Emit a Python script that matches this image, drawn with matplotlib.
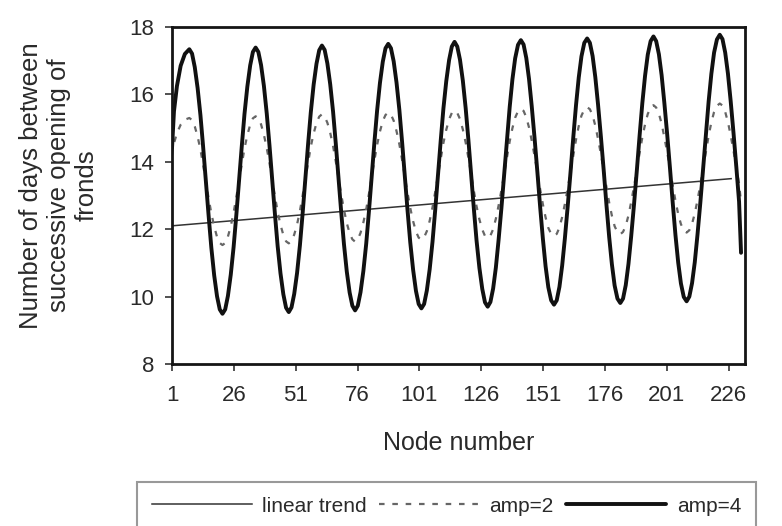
import matplotlib
matplotlib.use("Agg")
import matplotlib.pyplot as plt

# ---- data (node number, days) ----
nodes = [1.0, 1.8, 3.0, 4.5, 6.2,
         8.0, 9.1, 10.2, 11.35, 12.5, 13.6, 14.7, 15.8, 16.9, 18.05, 19.2, 20.3, 21.4, 22.5, 23.6, 24.75, 25.9, 27.0, 28.1, 29.2, 30.3, 31.45, 32.6, 33.7,
         34.8, 35.9, 37.0, 38.15, 39.3, 40.4, 41.5, 42.6, 43.7, 44.85, 46.0, 47.1, 48.2, 49.3, 50.4, 51.55, 52.7, 53.8, 54.9, 56.0, 57.1, 58.25, 59.4, 60.5,
         61.6, 62.7, 63.8, 64.95, 66.1, 67.2, 68.3, 69.4, 70.5, 71.65, 72.8, 73.9, 75.0, 76.1, 77.2, 78.35, 79.5, 80.6, 81.7, 82.8, 83.9, 85.05, 86.2, 87.3,
         88.4, 89.5, 90.6, 91.75, 92.9, 94.0, 95.1, 96.2, 97.3, 98.45, 99.6, 100.7, 101.8, 102.9, 104.0, 105.15, 106.3, 107.4, 108.5, 109.6, 110.7, 111.85, 113.0, 114.1,
         115.2, 116.3, 117.4, 118.55, 119.7, 120.8, 121.9, 123.0, 124.1, 125.25, 126.4, 127.5, 128.6, 129.7, 130.8, 131.9, 133.0, 134.15, 135.3, 136.4, 137.5, 138.6, 139.7, 140.85,
         142.0, 143.1, 144.2, 145.3, 146.4, 147.55, 148.7, 149.8, 150.9, 152.0, 153.1, 154.25, 155.4, 156.5, 157.6, 158.7, 159.8, 160.95, 162.1, 163.2, 164.3, 165.4, 166.5, 167.65,
         168.8, 169.9, 171.0, 172.1, 173.2, 174.35, 175.5, 176.6, 177.7, 178.8, 179.9, 181.05, 182.2, 183.3, 184.4, 185.5, 186.6, 187.75, 188.9, 190.0, 191.1, 192.2, 193.3, 194.45,
         195.6, 196.7, 197.8, 198.9, 200.0, 201.15, 202.3, 203.4, 204.5, 205.6, 206.7, 207.85, 209.0, 210.1, 211.2, 212.3, 213.4, 214.55, 215.7, 216.8, 217.9, 219.0, 220.1, 221.25,
         222.4, 223.5, 224.6, 225.7, 226.8, 227.95, 229.1, 230.2, 231.0]

amp4 = [14.40, 15.50, 16.25, 16.85, 17.20,
        17.34, 17.21, 16.81, 16.19, 15.38, 14.43, 13.41, 12.40, 11.45, 10.63, 10.01, 9.62, 9.49, 9.62, 10.02, 10.65, 11.47, 12.42, 13.44, 14.46, 15.42, 16.23, 16.86, 17.26,
        17.39, 17.26, 16.87, 16.25, 15.43, 14.49, 13.47, 12.45, 11.50, 10.69, 10.07, 9.67, 9.54, 9.68, 10.08, 10.70, 11.52, 12.47, 13.49, 14.52, 15.47, 16.29, 16.91, 17.31,
        17.45, 17.32, 16.92, 16.30, 15.49, 14.54, 13.52, 12.50, 11.56, 10.74, 10.12, 9.73, 9.59, 9.73, 10.13, 10.76, 11.57, 12.53, 13.55, 14.57, 15.52, 16.34, 16.97, 17.37,
        17.50, 17.37, 16.98, 16.35, 15.54, 14.59, 13.57, 12.56, 11.61, 10.80, 10.17, 9.78, 9.65, 9.78, 10.18, 10.81, 11.63, 12.58, 13.60, 14.62, 15.58, 16.39, 17.02, 17.42,
        17.56, 17.42, 17.03, 16.41, 15.59, 14.65, 13.63, 12.61, 11.66, 10.85, 10.23, 9.83, 9.70, 9.84, 10.24, 10.86, 11.68, 12.63, 13.66, 14.68, 15.63, 16.45, 17.07, 17.47,
        17.61, 17.48, 17.08, 16.46, 15.65, 14.70, 13.68, 12.66, 11.72, 10.90, 10.28, 9.89, 9.76, 9.89, 10.29, 10.92, 11.73, 12.69, 13.71, 14.73, 15.68, 16.50, 17.13, 17.53,
        17.66, 17.53, 17.14, 16.51, 15.70, 14.75, 13.74, 12.72, 11.77, 10.96, 10.33, 9.94, 9.81, 9.94, 10.34, 10.97, 11.79, 12.74, 13.76, 14.78, 15.74, 16.55, 17.18, 17.58,
        17.72, 17.58, 17.19, 16.57, 15.75, 14.81, 13.79, 12.77, 11.82, 11.01, 10.39, 9.99, 9.86, 10.00, 10.40, 11.02, 11.84, 12.79, 13.82, 14.84, 15.79, 16.61, 17.24, 17.63,
        17.77, 17.64, 17.24, 16.62, 15.81, 14.86, 13.84, 12.82, 11.30]

amp2 = [14.20, 14.55, 14.85, 15.10, 15.25,
        15.30, 15.24, 15.05, 14.75, 14.36, 13.90, 13.41, 12.92, 12.47, 12.08, 11.77, 11.59, 11.53, 11.59, 11.78, 12.09, 12.49, 12.95, 13.44, 13.93, 14.40, 14.79, 15.10, 15.29,
        15.35, 15.29, 15.11, 14.80, 14.41, 13.96, 13.47, 12.98, 12.52, 12.13, 11.83, 11.64, 11.58, 11.65, 11.84, 12.14, 12.54, 13.00, 13.49, 13.99, 14.45, 14.84, 15.15, 15.34,
        15.41, 15.34, 15.16, 14.86, 14.47, 14.01, 13.52, 13.03, 12.58, 12.18, 11.88, 11.70, 11.63, 11.70, 11.89, 12.20, 12.59, 13.05, 13.55, 14.04, 14.50, 14.90, 15.21, 15.39,
        15.46, 15.40, 15.22, 14.91, 14.52, 14.06, 13.57, 13.08, 12.63, 12.24, 11.93, 11.75, 11.69, 11.76, 11.94, 12.25, 12.65, 13.11, 13.60, 14.10, 14.56, 14.95, 15.26, 15.45,
        15.52, 15.45, 15.27, 14.96, 14.57, 14.12, 13.63, 13.14, 12.68, 12.29, 11.99, 11.80, 11.74, 11.81, 12.00, 12.31, 12.70, 13.16, 13.66, 14.15, 14.61, 15.00, 15.31, 15.50,
        15.57, 15.51, 15.32, 15.02, 14.63, 14.17, 13.68, 13.19, 12.74, 12.35, 12.04, 11.86, 11.80, 11.86, 12.05, 12.36, 12.75, 13.21, 13.71, 14.20, 14.66, 15.06, 15.37, 15.55,
        15.62, 15.56, 15.38, 15.07, 14.68, 14.23, 13.74, 13.25, 12.79, 12.40, 12.09, 11.91, 11.85, 11.92, 12.10, 12.41, 12.81, 13.27, 13.76, 14.26, 14.72, 15.11, 15.42, 15.61,
        15.68, 15.61, 15.43, 15.13, 14.73, 14.28, 13.79, 13.30, 12.84, 12.45, 12.15, 11.97, 11.90, 11.97, 12.16, 12.47, 12.86, 13.32, 13.82, 14.31, 14.77, 15.17, 15.48, 15.66,
        15.73, 15.67, 15.48, 15.18, 14.79, 14.33, 13.84, 13.35, 12.80]

trend_nodes = [1, 227]
trend_vals = [12.1, 13.5]

xticks = [1, 26, 51, 76, 101, 126, 151, 176, 201, 226]
yticks = [8, 10, 12, 14, 16, 18]

labels = ["linear trend", "amp=2", "amp=4"]
xlabel = "Node number"
ylabel = "Number of days between\nsuccessive opening of\nfronds"

# ---- figure ----
plt.rcParams['font.family'] = ['Liberation Sans', 'DejaVu Sans']
W, H = 782, 526
fig = plt.figure(figsize=(W / 100, H / 100), dpi=100)
ax = fig.add_axes([172 / W, 1 - 364 / H, (745 - 172) / W, (364 - 27) / H])

txt = '#2a2a2a'
l_tr, = ax.plot(trend_nodes, trend_vals, color='#333333', lw=1.1, label=labels[0])
l_a2, = ax.plot(nodes, amp2, color='#666666', lw=1.6, linestyle=(0, (2.5, 3.5)), label=labels[1])
l_a4, = ax.plot(nodes, amp4, color='#111111', lw=2.8, label=labels[2],
                solid_joinstyle='round', solid_capstyle='round')

ax.set_xlim(1, 232.6)
ax.set_ylim(8, 18)
ax.set_xticks(xticks)
ax.set_yticks(yticks)
ax.tick_params(axis='both', direction='out', length=5, width=1.2, colors='#333333',
               labelsize=16, labelcolor=txt)
ax.tick_params(axis='x', pad=10)
ax.tick_params(axis='y', pad=8)
for s in ax.spines.values():
    s.set_linewidth(2.0)
    s.set_color('#151515')

ax.set_xlabel(xlabel, fontsize=18, color=txt, labelpad=18)
ax.set_ylabel(ylabel, fontsize=18.5, color=txt, linespacing=1.2)
ax.yaxis.set_label_coords(-0.128, 0.53)

leg = fig.legend(handles=[l_tr, l_a2, l_a4], labels=labels, loc='upper left',
                 bbox_to_anchor=(137 / W, 1 - 482 / H), ncol=3, fontsize=15,
                 frameon=True, fancybox=False, edgecolor='#999999', framealpha=1,
                 handlelength=4.8, handletextpad=0.5, columnspacing=0.6,
                 borderpad=0.7, borderaxespad=0)
leg.get_frame().set_linewidth(1.5)
for t in leg.get_texts():
    t.set_color(txt)

fig.savefig("out.png", dpi=100)
